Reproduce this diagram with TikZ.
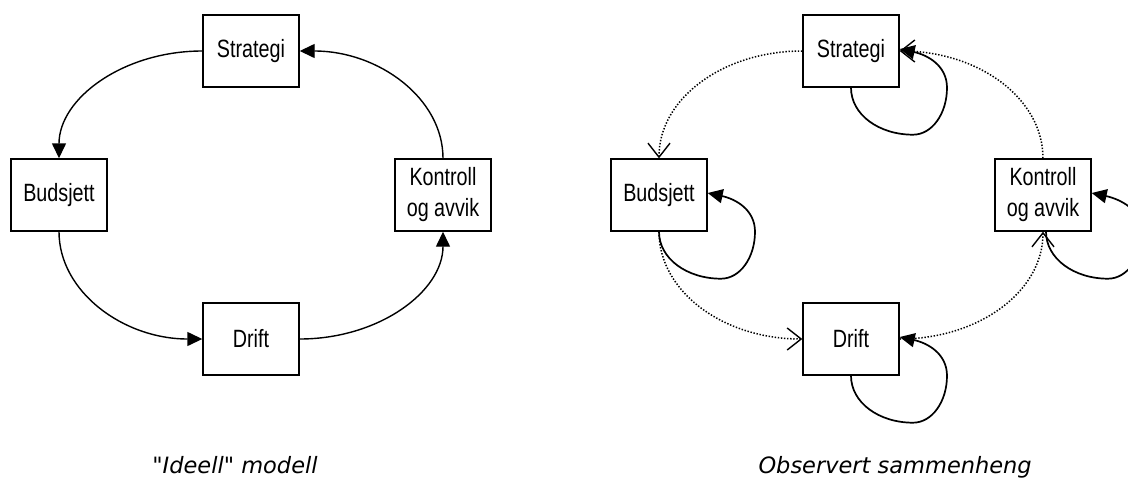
\documentclass[tikz,border=0pt]{standalone}
\usepackage{fontspec}
\usetikzlibrary{arrows.meta}
\newfontfamily\boxfont[FakeStretch=0.79]{Liberation Sans}
\newfontfamily\capfont{DejaVu Sans}
\begin{document}
\begin{tikzpicture}[x=1pt,y=-1pt,
  stage/.style={draw, line width=1.4pt, minimum width=96pt, minimum height=72pt,
    inner sep=0pt, align=center, font=\boxfont\fontsize{25}{31}\selectfont},
  flow/.style={line width=1.4pt, -{Triangle[length=15pt,width=14pt]}},
  weak/.style={line width=1.5pt, dash pattern=on 1.4pt off 1.7pt,
    -{Straight Barb[length=14pt,width=22pt,line width=1.4pt]}},
  selfloop/.style={line width=1.7pt, -{Triangle[length=15pt,width=14pt]}},
  caption/.style={font=\capfont\itshape\fontsize{22.5}{27}\selectfont, inner sep=0pt}]
\useasboundingbox (0,0) rectangle (1128,477);
\clip (0,0) rectangle (1128,477);

% ideal cycle
\node[stage] (s1) at (251,51)  {Strategi};
\node[stage] (b1) at (59,195)  {Budsjett};
\node[stage] (d1) at (251,339) {Drift};
\node[stage] (k1) at (443,195) {Kontroll\\og avvik};

\draw[flow] (s1.west) .. controls +(-79,0) and +(0,-60) .. (b1.north);
\draw[flow] (b1.south) .. controls +(0,60) and +(-79,0) .. (d1.west);
\draw[flow] (d1.east) .. controls +(79,0) and +(0,60) .. (k1.south);
\draw[flow] (k1.north) .. controls +(0,-60) and +(79,0) .. (s1.east);

\node[caption, anchor=base] (c1) at (235,473) {"Ideell" modell};

% observed cycle
\node[stage] (s2) at (851,51)  {Strategi};
\node[stage] (b2) at (659,195) {Budsjett};
\node[stage] (d2) at (851,339) {Drift};
\node[stage] (k2) at (1043,195) {Kontroll\\og avvik};

\draw[weak] (s2.west) .. controls +(-79,0) and +(0,-60) .. (b2.north);
\draw[weak] (b2.south) .. controls +(0,60) and +(-79,0) .. (d2.west);
\draw[weak] (d2.east) .. controls +(79,0) and +(0,60) .. (k2.south);
\draw[weak] (k2.north) .. controls +(0,-60) and +(79,0) .. (s2.east);

% each stage feeding back on itself
\foreach \n/\dx in {s2/0, b2/0, d2/0, k2/3} {
  \draw[selfloop] ([xshift=\dx pt]\n.south)
    .. controls +(0,27) and +(-34,0) .. ++(62,47)
    .. controls +(19,0) and +(0,26) .. ++(34,-47)
    .. controls +(0,-22) and +(28,6) .. ([yshift=2pt]\n.east);
}

\node[caption, anchor=base east] (c2) at (1032,473) {Observert sammenheng};
\end{tikzpicture}
\end{document}
